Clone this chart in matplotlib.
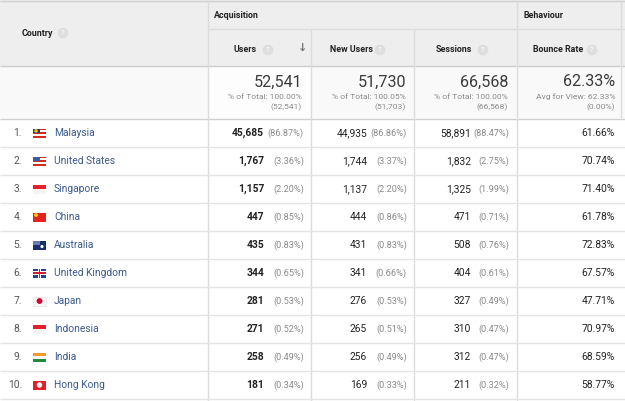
import matplotlib.pyplot as plt
from matplotlib.patches import Rectangle, Circle

# table data
countries = ["Malaysia", "United States", "Singapore", "China", "Australia",
             "United Kingdom", "Japan", "Indonesia", "India", "Hong Kong"]
flags = ["MY", "US", "SG", "CN", "AU", "GB", "JP", "ID", "IN", "HK"]
users = [45685, 1767, 1157, 447, 435, 344, 281, 271, 258, 181]
users_pct = [86.87, 3.36, 2.20, 0.85, 0.83, 0.65, 0.53, 0.52, 0.49, 0.34]
new_users = [44935, 1744, 1137, 444, 431, 341, 276, 265, 256, 169]
new_users_pct = [86.86, 3.37, 2.20, 0.86, 0.83, 0.66, 0.53, 0.51, 0.49, 0.33]
sessions = [58891, 1832, 1325, 471, 508, 404, 327, 310, 312, 211]
sessions_pct = [88.47, 2.75, 1.99, 0.71, 0.76, 0.61, 0.49, 0.47, 0.47, 0.32]
bounce_rate = [61.66, 70.74, 71.40, 61.78, 72.83, 67.57, 47.71, 70.97, 68.59, 58.77]

total_labels = ["52,541", "51,730", "66,568", "62.33%"]
total_sub1 = ["% of Total: 100.00%", "% of Total: 100.05%", "% of Total: 100.00%", "Avg for View: 62.33%"]
total_sub2 = ["(52,541)", "(51,703)", "(66,568)", "(0.00%)"]
headers = ["Users", "New Users", "Sessions", "Bounce Rate"]

plt.rcParams['font.family'] = ['Roboto', 'DejaVu Sans']

W, H = 625, 401
fig = plt.figure(figsize=(W / 100, H / 100), dpi=100)
ax = fig.add_axes([0, 0, 1, 1])
ax.set_xlim(0, W)
ax.set_ylim(H, 0)
ax.axis('off')

LINE = '#dcdcdc'
HEAD_BG = '#eeeeee'
head_x = [234, 330, 436, 533]
help_x = [268, 380, 483, 592]
sum_right = [302, 406, 508, 615]
val_right = [264, 367, 471]
pct_right = [304, 407, 509]
row0 = 119
row_h = 28
HEAD_FS = 6.4


def help_icon(x, y):
    ax.add_patch(Circle((x, y), 4.6, color='#dedede', zorder=3))
    ax.text(x, y + 0.3, '?', color='white', fontsize=5.5, ha='center', va='center', zorder=4)


def draw_flag(code, x, y, w=13, h=9):
    top = y - h / 2
    def rect(x0, y0, ww, hh, c):
        ax.add_patch(Rectangle((x0, y0), ww, hh, color=c, lw=0, zorder=3))
    if code in ("MY", "US"):
        rect(x, top, w, h, 'white')
        for k in range(0, 5, 2):
            rect(x, top + k * h / 5, w, h / 5, '#d52b1e')
        rect(x, top, w * 0.5, h * 0.55, '#1f3c88' if code == "MY" else '#3c5aa6')
        if code == "MY":
            ax.add_patch(Circle((x + 3, top + 2.4), 1.1, color='#f5c400', zorder=4))
    elif code in ("SG", "ID"):
        rect(x, top, w, h, '#f4f4f4')
        rect(x, top, w, h / 2, '#e8202a' if code == "SG" else '#e0202a')
    elif code == "CN":
        rect(x, top, w, h, '#e3231b')
        ax.add_patch(Circle((x + 3, top + 2.6), 1.2, color='#ffd400', zorder=4))
    elif code == "AU":
        rect(x, top, w, h, '#1b2f6e')
        rect(x, top, w * 0.5, h * 0.5, '#6b7bb0')
        ax.add_patch(Circle((x + 9, top + 6), 0.9, color='white', zorder=4))
    elif code == "GB":
        rect(x, top, w, h, '#2d3f8f')
        rect(x, y - 1.6, w, 3.2, 'white')
        rect(x + w / 2 - 1.6, top, 3.2, h, 'white')
        rect(x, y - 0.8, w, 1.6, '#cf1f2e')
        rect(x + w / 2 - 0.8, top, 1.6, h, '#cf1f2e')
    elif code == "JP":
        rect(x, top, w, h, '#f7f7f7')
        ax.add_patch(Rectangle((x, top), w, h, fill=False, ec='#e4e4e4', lw=0.5, zorder=4))
        ax.add_patch(Circle((x + w / 2, y), 2.2, color='#d7002a', zorder=4))
    elif code == "IN":
        rect(x, top, w, h / 3, '#f29a2e')
        rect(x, top + h / 3, w, h / 3, '#f7f7f7')
        rect(x, top + 2 * h / 3, w, h / 3, '#1f8a3a')
    elif code == "HK":
        rect(x, top, w, h, '#e3202a')
        ax.add_patch(Circle((x + w / 2, y), 2.0, color='white', zorder=4))


# header backgrounds
ax.add_patch(Rectangle((0, 0), W, 66, color=HEAD_BG, lw=0, zorder=0))
ax.add_patch(Rectangle((0, 66), W, 52, color='#f9f9f9', lw=0, zorder=0))
ax.add_patch(Rectangle((208, 66), 103, 52, color='#fdfdfd', lw=0, zorder=0))

# lines
ax.hlines([0.5, 66, 118.5], 0, W, color='#cfcfcf', lw=1, zorder=1)
ax.hlines(29, 208, W, color=LINE, lw=1, zorder=1)
ax.vlines([208, 517], 0, H, color=LINE, lw=1, zorder=1)
ax.vlines([311, 414], 29, H, color=LINE, lw=1, zorder=1)
ax.vlines(621, 0, 118, color=LINE, lw=1, zorder=1)
for i in range(1, len(countries) + 1):
    ax.hlines(row0 + i * row_h, 0, W, color='#e3e3e3', lw=1, zorder=1)

# header text
ax.text(22, 33, "Country", fontsize=HEAD_FS, fontweight='bold', color='#222222', va='center')
help_icon(63, 33)
ax.text(214, 15, "Acquisition", fontsize=HEAD_FS, fontweight='bold', color='#222222', va='center')
ax.text(523, 15, "Behaviour", fontsize=HEAD_FS, fontweight='bold', color='#222222', va='center')
for name, hx, qx in zip(headers, head_x, help_x):
    ax.text(hx, 50, name, fontsize=HEAD_FS, fontweight='bold', color='#222222', va='center')
    help_icon(qx, 50)
ax.text(303, 48, "\u2193", family='DejaVu Sans', fontsize=8, fontweight='bold',
        color='#777777', ha='center', va='center')

# summary row
for big, s1, s2, rx in zip(total_labels, total_sub1, total_sub2, sum_right):
    ax.text(rx, 82, big, fontsize=11.6, color='#3a3a3a', ha='right', va='center')
    ax.text(rx, 97, s1, fontsize=6.1, color='#8a8a8a', ha='right', va='center')
    ax.text(rx, 107, s2, fontsize=6.1, color='#8a8a8a', ha='right', va='center')

# data rows
cols = [(users, users_pct), (new_users, new_users_pct), (sessions, sessions_pct)]
for i, name in enumerate(countries):
    y = row0 + i * row_h + 14
    ax.text(22, y, f"{i + 1}.", fontsize=7.4, color='#555555', ha='right', va='center')
    draw_flag(flags[i], 33, y)
    ax.text(54, y, name, fontsize=7.4, color='#3b5a8a', va='center')
    for j, (vals, pcts) in enumerate(cols):
        ax.text(val_right[j], y, f"{vals[i]:,}", fontsize=7.4, color='#222222',
                fontweight='bold' if j == 0 else 'normal', ha='right', va='center')
        ax.text(pct_right[j], y, f"({pcts[i]:.2f}%)", fontsize=6.6, color='#8a8a8a',
                ha='right', va='center')
    ax.text(615, y, f"{bounce_rate[i]:.2f}%", fontsize=7.4, color='#222222', ha='right', va='center')

fig.savefig('out.png', dpi=100)
